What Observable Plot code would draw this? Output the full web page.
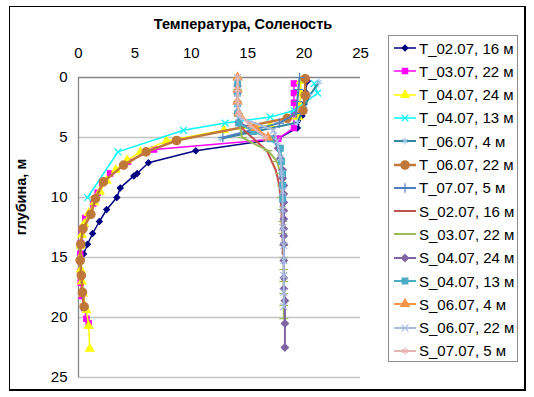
<!DOCTYPE html>
<html><head><meta charset="utf-8">
<script src="https://cdn.jsdelivr.net/npm/d3@7"></script>
<script src="https://cdn.jsdelivr.net/npm/@observablehq/plot@0.6"></script>
<style>
body{margin:0;background:#fff;font-family:Arial,"Liberation Sans",sans-serif}
#wrap{position:relative;width:534px;height:397px;overflow:hidden}
#chart{position:absolute;left:0;top:0}
#frame{position:absolute;left:9px;top:6px;width:517px;height:385px;border:1px solid #000;border-right-width:2px;border-bottom-width:2px;box-sizing:border-box;pointer-events:none}
#title{position:absolute;left:143px;top:16px;width:200px;text-align:center;font-weight:bold;font-size:14.5px;white-space:nowrap}
#ylab{position:absolute;left:21px;top:197px;transform:translate(-50%,-50%) rotate(-90deg);font-weight:bold;font-size:14.5px;white-space:nowrap}
#legend{position:absolute;left:388px;top:35px;width:130px;height:327px;border:1px solid #8c8c8c;box-sizing:border-box;background:#fff}
.item{position:absolute;left:4px;height:20px;display:flex;align-items:center;font-size:15px;white-space:nowrap}
.item svg{margin-right:2px}
</style></head><body>
<div id="wrap"><div id="chart"></div><div id="frame"></div>
<div id="title">Температура, Соленость</div>
<div id="ylab">глубина, м</div>
<div id="legend"></div></div>
<script>
// ---- data (depth in m, value) ----
const names = ["T_02.07, 16 м","T_03.07, 22 м","T_04.07, 24 м","T_04.07, 13 м","T_06.07, 4 м","T_06.07, 22 м","T_07.07, 5 м",
               "S_02.07, 16 м","S_03.07, 22 м","S_04.07, 24 м","S_04.07, 13 м","S_06.07, 4 м","S_06.07, 22 м","S_07.07, 5 м"];
const xTicks = [0,5,10,15,20,25];
const yTicks = [0,5,10,15,20,25];

const T0207_d = [0.3,1.2,2.2,3.2,4.2,5.1,6.1,7.1,8.0,8.2,9.2,10.0,11.0,12.0,13.0,13.9,14.7];
const T0207_v = [20.3,20.1,20.0,19.8,19.4,17.7,10.4,6.2,5.2,4.9,3.7,3.4,2.5,1.85,1.25,0.8,0.45];
const T0307_d = [0.5,1.3,2.1,3.0,4.2,5.1,6.0,7.0,8.0,8.8,9.6,10.5,11.7,12.8,13.8,14.7,16.2,17.1,18.2,19.2,20.1,20.5];
const T0307_v = [19.1,19.1,19.1,19.1,19.1,17.7,6.7,4.4,2.8,2.1,1.7,1.3,0.6,0.3,0.2,0.15,0.15,0.2,0.3,0.5,0.7,0.9];
const T0407a_d = [0.3,1.3,2.3,3.3,4.0,4.4,5.3,6.2,6.9,7.7,8.6,9.5,10.4,11.3,12.2,13.1,14.0,15.0,16.0,17.0,18.0,19.4,20.7,22.6];
const T0407a_v = [19.7,19.7,19.6,19.5,17.0,12.9,7.8,5.5,4.3,3.3,2.5,1.9,1.4,0.9,0.5,0.3,0.2,0.15,0.2,0.3,0.4,0.7,0.9,1.0];
const T0407b_d = [0.5,1.3,2.75,3.3,3.8,4.4,6.2,10.0];
const T0407b_v = [20.9,21.2,19.1,17.0,13.0,9.3,3.5,0.8];
const T0607a_d = [0.4,1.5,2.5,3.75,5.1];
const T0607a_v = [21.3,20.5,20.0,19.4,12.6];
const T0607b_d = [0.1,1.5,2.75,3.4,5.25,6.2,7.3,8.7,10.1,11.4,12.6,13.9,15.25,16.5,17.9,19.1];
const T0607b_v = [20.1,20.1,19.9,18.5,8.7,6.0,4.0,2.2,1.5,1.1,0.4,0.2,0.15,0.25,0.35,0.5];
const T0707_d = [0,1,2,3,3.8,5.0];
const T0707_v = [19.6,19.5,19.4,19.3,17.8,12.8];

const S0207_d = [0,1,2,3,4,5,6.1,7.75,9,10,11,12,13,14,14.7];
const S0207_v = [14.1,14.1,14.1,14.1,14.2,15.4,16.7,17.5,17.8,17.9,18.0,18.0,18.1,18.1,18.1];
const S0307_d = [0,1,2,3,4,5,6.1,7,8,9,10,11,12,13,14,15,16,17,18,19,20.1];
const S0307_v = [14.1,14.1,14.1,14.2,14.3,14.5,16.8,17.6,17.9,18.0,18.0,18.1,18.1,18.1,18.2,18.2,18.2,18.2,18.2,18.2,18.2];
const S0407a_d = [0.1,0.7,1.3,2.2,3.0,3.75,4.4,5.1,5.9,6.75,7.7,8.4,9.0,9.7,10.4,11.1,11.8,12.6,13.2,13.9,15.25,16.7,17.6,18.6,20.5,22.5];
const S0407a_v = [14.1,14.1,14.1,14.1,14.1,14.2,15.6,17.3,17.7,17.9,18.1,18.1,18.2,18.2,18.2,18.2,18.2,18.2,18.2,18.2,18.2,18.2,18.2,18.3,18.3,18.3];
const S0407b_d = [0.5,1.3,2.2,3.0,3.8,4.5,5.1,5.9,7,8,9,10.1];
const S0407b_v = [14.1,14.1,14.1,14.1,14.2,15.5,17.0,17.9,18.0,18.1,18.1,18.1];
const S0607a_d = [0,1,2,3,4.2,5.0];
const S0607a_v = [14.1,14.1,14.1,14.2,15.7,16.8];
const S0607b_d = [0,1.3,2.5,3.3,4.4,5.3,6.7,8,9.5,11,12.5,14,15.25,16.5,17.9,19.1];
const S0607b_v = [14.1,14.1,14.1,14.2,17.3,17.6,17.9,18.0,18.1,18.1,18.1,18.2,18.2,18.2,18.2,18.2];
const S0707_d = [0,1,2,3,4,5];
const S0707_v = [14.1,14.1,14.1,14.2,15.2,16.6];

// ---- styles ----
const dash = {draw(ctx, size){const w = Math.sqrt(size)*0.9; ctx.moveTo(-w,0); ctx.lineTo(w,0);}};
const series = [
  {d:T0207_d, v:T0207_v, color:"#000080", w:1.5, sym:"diamond2", r:2.6, fill:"#000080", stroke:"#000080"},
  {d:T0307_d, v:T0307_v, color:"#FF00FF", w:1.5, sym:"square", r:3, fill:"#FF00FF", stroke:"#FF00FF"},
  {d:T0407a_d, v:T0407a_v, color:"#FFFF00", w:1.5, sym:"triangle", r:3, fill:"#FFFF00", stroke:"#FFFF00"},
  {d:T0407b_d, v:T0407b_v, color:"#00FFFF", w:1.5, sym:"times", r:3.2, fill:"none", stroke:"#00FFFF"},
  {d:T0607a_d, v:T0607a_v, color:"#31859C", w:2, sym:"asterisk", r:3.2, fill:"none", stroke:"#9DC3E6"},
  {d:T0607b_d, v:T0607b_v, color:"#C0773A", w:2.5, sym:"circle", r:4.2, fill:"#C0773A", stroke:"#C0773A"},
  {d:T0707_d, v:T0707_v, color:"#4F81BD", w:2, sym:"plus", r:3.2, fill:"none", stroke:"#4F81BD"},
  {d:S0207_d, v:S0207_v, color:"#C0504D", w:2, sym:null},
  {d:S0307_d, v:S0307_v, color:"#9BBB59", w:2, sym:dash, r:2.8, fill:"none", stroke:"#9BBB59"},
  {d:S0407a_d, v:S0407a_v, color:"#8064A2", w:2, sym:"diamond2", r:3.2, fill:"#8064A2", stroke:"#8064A2"},
  {d:S0407b_d, v:S0407b_v, color:"#4BACC6", w:2, sym:"square", r:3.2, fill:"#4BACC6", stroke:"#4BACC6"},
  {d:S0607a_d, v:S0607a_v, color:"#F79646", w:2, sym:"triangle", r:3.2, fill:"#F79646", stroke:"#F79646"},
  {d:S0607b_d, v:S0607b_v, color:"#A9BCE0", w:2, sym:"times", r:3.2, fill:"none", stroke:"#A9BCE0"},
  {d:S0707_d, v:S0707_v, color:"#E6B4B2", w:2, sym:"asterisk", r:3.2, fill:"none", stroke:"#E6B4B2"}
];

const marks = [
  Plot.ruleY([5,10,15,20,25], {stroke:"#c4c4c4", strokeWidth:1.3}),
  Plot.ruleX([0], {stroke:"#868686", strokeWidth:1.3}),
  Plot.ruleY([0], {stroke:"#868686", strokeWidth:1.3})
];
series.forEach((s, k) => {
  const data = s.d.map((d, i) => ({depth:d, val:s.v[i], name:names[k]}));
  marks.push(Plot.line(data, {x:"val", y:"depth", stroke:s.color, strokeWidth:s.w}));
  if (s.sym) marks.push(Plot.dot(data, {x:"val", y:"depth", symbol:s.sym, r:s.r, fill:s.fill, stroke:s.stroke, strokeWidth:1.2}));
});

const chart = Plot.plot({
  width:534, height:397,
  marginLeft:78, marginRight:174, marginTop:77, marginBottom:20,
  style:{fontSize:"15px", fontFamily:"Arial, 'Liberation Sans', sans-serif", color:"#000", background:"transparent", overflow:"visible"},
  x:{domain:[0,25], ticks:xTicks, axis:"top", tickSize:0, tickPadding:20, label:null},
  y:{domain:[0,25], reverse:true, ticks:yTicks, tickSize:0, tickPadding:11, label:null},
  marks
});
document.getElementById("chart").appendChild(chart);

// ---- legend ----
const symMap = {diamond2:d3.symbolDiamond2, square:d3.symbolSquare, triangle:d3.symbolTriangle, times:d3.symbolTimes,
  asterisk:d3.symbolAsterisk, circle:d3.symbolCircle, plus:d3.symbolPlus};
const leg = d3.select("#legend");
series.forEach((s, k) => {
  const item = leg.append("div").attr("class","item").style("top", (2 + k*23.3) + "px");
  const svg = item.append("svg").attr("width",24).attr("height",14);
  svg.append("line").attr("x1",1).attr("x2",23).attr("y1",7).attr("y2",7).attr("stroke",s.color).attr("stroke-width",s.w);
  if (s.sym && typeof s.sym === "string") {
    svg.append("path").attr("transform","translate(12,7)")
      .attr("d", d3.symbol(symMap[s.sym], Math.PI*s.r*s.r)())
      .attr("fill", s.fill).attr("stroke", s.stroke).attr("stroke-width",1.2);
  }
  item.append("span").text(names[k]);
});
</script>
</body></html>
